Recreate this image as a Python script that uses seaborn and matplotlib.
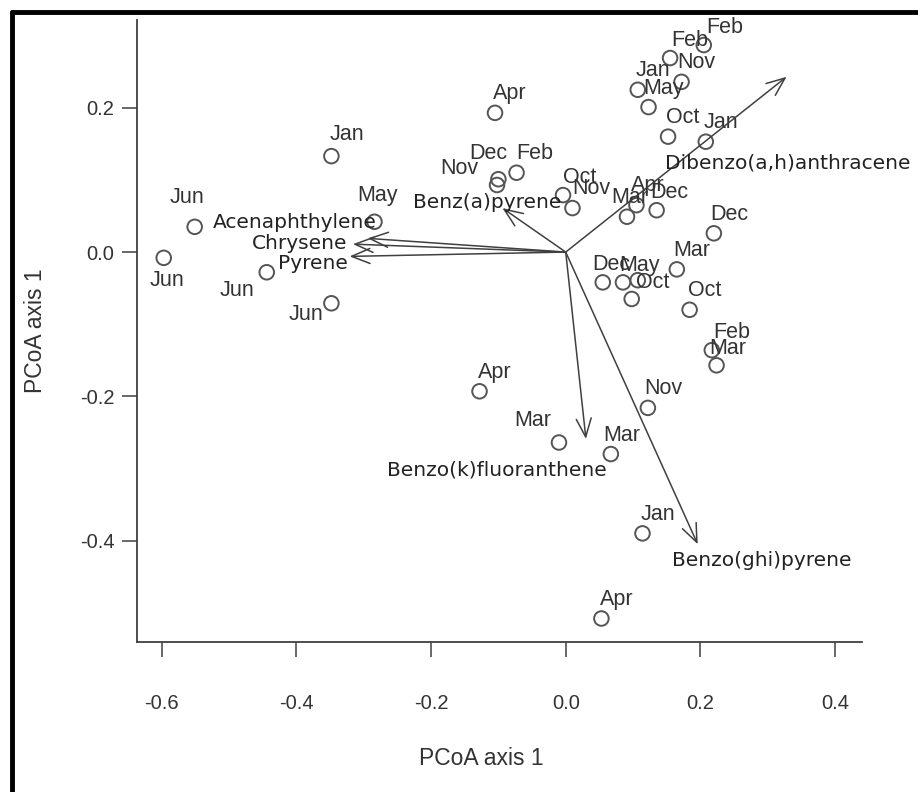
import numpy as np
import pandas as pd
import matplotlib
matplotlib.use("Agg")
import matplotlib.pyplot as plt
from matplotlib.lines import Line2D
import seaborn as sns

# ============================================================
# DATOS
# ============================================================
meses = ['Jun', 'Jun', 'Jun', 'Jun', 'Jan', 'May', 'Apr', 'Dec', 'Nov', 'Feb',
         'Oct', 'Nov', 'Mar', 'Apr', 'Dec', 'Dec', 'Mar', 'Dec', 'May', '',
         'Oct', 'Oct', 'Feb', 'Mar', 'Apr', 'Mar', 'Mar', 'Nov', 'Jan', 'Apr',
         'Feb', 'Feb', 'Nov', 'Jan', 'May', 'Oct', 'Jan']
pcoa1 = [-0.597, -0.551, -0.444, -0.348, -0.348, -0.284, -0.105, -0.100, -0.102, -0.073,
         -0.004, 0.010, 0.091, 0.105, 0.135, 0.220, 0.165, 0.055, 0.085, 0.107,
         0.098, 0.184, 0.217, 0.224, -0.128, -0.010, 0.067, 0.122, 0.114, 0.053,
         0.205, 0.155, 0.172, 0.107, 0.123, 0.152, 0.208]
pcoa2 = [-0.008, 0.035, -0.028, -0.071, 0.133, 0.042, 0.193, 0.101, 0.093, 0.110,
         0.079, 0.061, 0.049, 0.065, 0.058, 0.026, -0.024, -0.042, -0.042, -0.039,
         -0.065, -0.080, -0.136, -0.157, -0.193, -0.264, -0.280, -0.216, -0.390, -0.508,
         0.287, 0.269, 0.236, 0.225, 0.201, 0.160, 0.153]

compuestos = ['Dibenzo(a,h)anthracene', 'Benz(a)pyrene', 'Acenaphthylene', 'Chrysene',
              'Pyrene', 'Benzo(k)fluoranthene', 'Benzo(ghi)pyrene']
vec1 = [0.328, -0.094, -0.294, -0.316, -0.321, 0.030, 0.196]
vec2 = [0.243, 0.061, 0.019, 0.011, -0.006, -0.259, -0.405]

ticks_x = [-0.6, -0.4, -0.2, 0.0, 0.2, 0.4]
ticks_y = [-0.4, -0.2, 0.0, 0.2]

df = pd.DataFrame({'Mes': meses, 'PCoA1': pcoa1, 'PCoA2': pcoa2})

# desplazamiento de etiquetas (pixeles): por defecto arriba-derecha
desp_def = (15, 19)
desp_mes = {0: (3, -23), 1: (-8, 29), 2: (-30, -18), 3: (-25, -11), 4: (16, 22),
            5: (3, 26), 7: (-10, 26), 8: (-38, 16), 9: (18, 19), 10: (17, 18),
            11: (19, 20), 12: (3, 19), 13: (11, 20), 14: (13, 18), 17: (9, 18),
            18: (17, 17), 20: (21, 16), 22: (20, 18), 23: (11, 17), 25: (-26, 22),
            26: (11, 19), 30: (21, 18), 31: (20, 18)}

# (dx, dy, ha) de las etiquetas de los vectores respecto a la punta
desp_vec = [(1, -86, 'center'), (-15, 6, 'center'), (9, 16, 'right'), (-6, 1, 'right'),
            (-2, -7, 'right'), (-89, -31, 'center'), (64, -16, 'center')]

# ============================================================
# GRÁFICO
# ============================================================
sns.set_theme(style='white')
plt.rcParams['font.family'] = ['Liberation Sans', 'DejaVu Sans']

gris = '#404040'
fig = plt.figure(figsize=(9.18, 7.92), dpi=100)
ax = fig.add_axes([0.149, 0.189, 0.790, 0.786])

sns.scatterplot(data=df, x='PCoA1', y='PCoA2', ax=ax, marker='o', s=110,
                facecolor='none', edgecolor='#555555', linewidth=1.4, legend=False)

for i, row in df.iterrows():
    dx, dy = desp_mes.get(i, desp_def)
    ax.annotate(row['Mes'], (row['PCoA1'], row['PCoA2']), xytext=(dx, dy),
                textcoords='offset pixels', ha='center', va='center',
                fontsize=15.5, color='#333333')

for nombre, x, y, (dx, dy, ha) in zip(compuestos, vec1, vec2, desp_vec):
    ax.annotate('', xy=(x, y), xytext=(0, 0),
                arrowprops=dict(arrowstyle='->,head_length=1.1,head_width=0.45',
                                color=gris, lw=1.1, shrinkA=0, shrinkB=0))
    ax.annotate(nombre, (x, y), xytext=(dx, dy), textcoords='offset pixels',
                ha=ha, va='center', fontsize=14.5, color='#222222',
                family='DejaVu Sans')

ax.set_xlim(-0.637, 0.44)
ax.set_ylim(-0.541, 0.322)
ax.set_xticks(ticks_x)
ax.set_yticks(ticks_y)
ax.set_xticklabels([f'{t:.1f}' for t in ticks_x])
ax.set_yticklabels([f'{t:.1f}' for t in ticks_y])
ax.tick_params(axis='both', direction='out', length=11, width=1.1, color=gris,
               labelsize=14.5, labelcolor='#333333', bottom=True, left=True)
ax.tick_params(axis='x', pad=26)
ax.tick_params(axis='y', pad=5)
for lado in ['top', 'right']:
    ax.spines[lado].set_visible(False)
for lado in ['left', 'bottom']:
    ax.spines[lado].set_color(gris)
    ax.spines[lado].set_linewidth(1.3)

ax.set_xlabel('PCoA axis 1', fontsize=16.5, color='#333333', labelpad=26)
ax.set_ylabel('PCoA axis 1', fontsize=16.5, color='#333333', labelpad=24)
ax.xaxis.set_label_coords(0.475, -0.168)

# marco negro grueso (arriba e izquierda)
fig.add_artist(Line2D([12 / 918, 1.0], [1 - 12 / 792, 1 - 12 / 792],
                      color='black', lw=3.5, transform=fig.transFigure))
fig.add_artist(Line2D([12 / 918, 12 / 918], [0.0, 1 - 12 / 792],
                      color='black', lw=3.5, transform=fig.transFigure))

fig.savefig('out.png', dpi=100)
